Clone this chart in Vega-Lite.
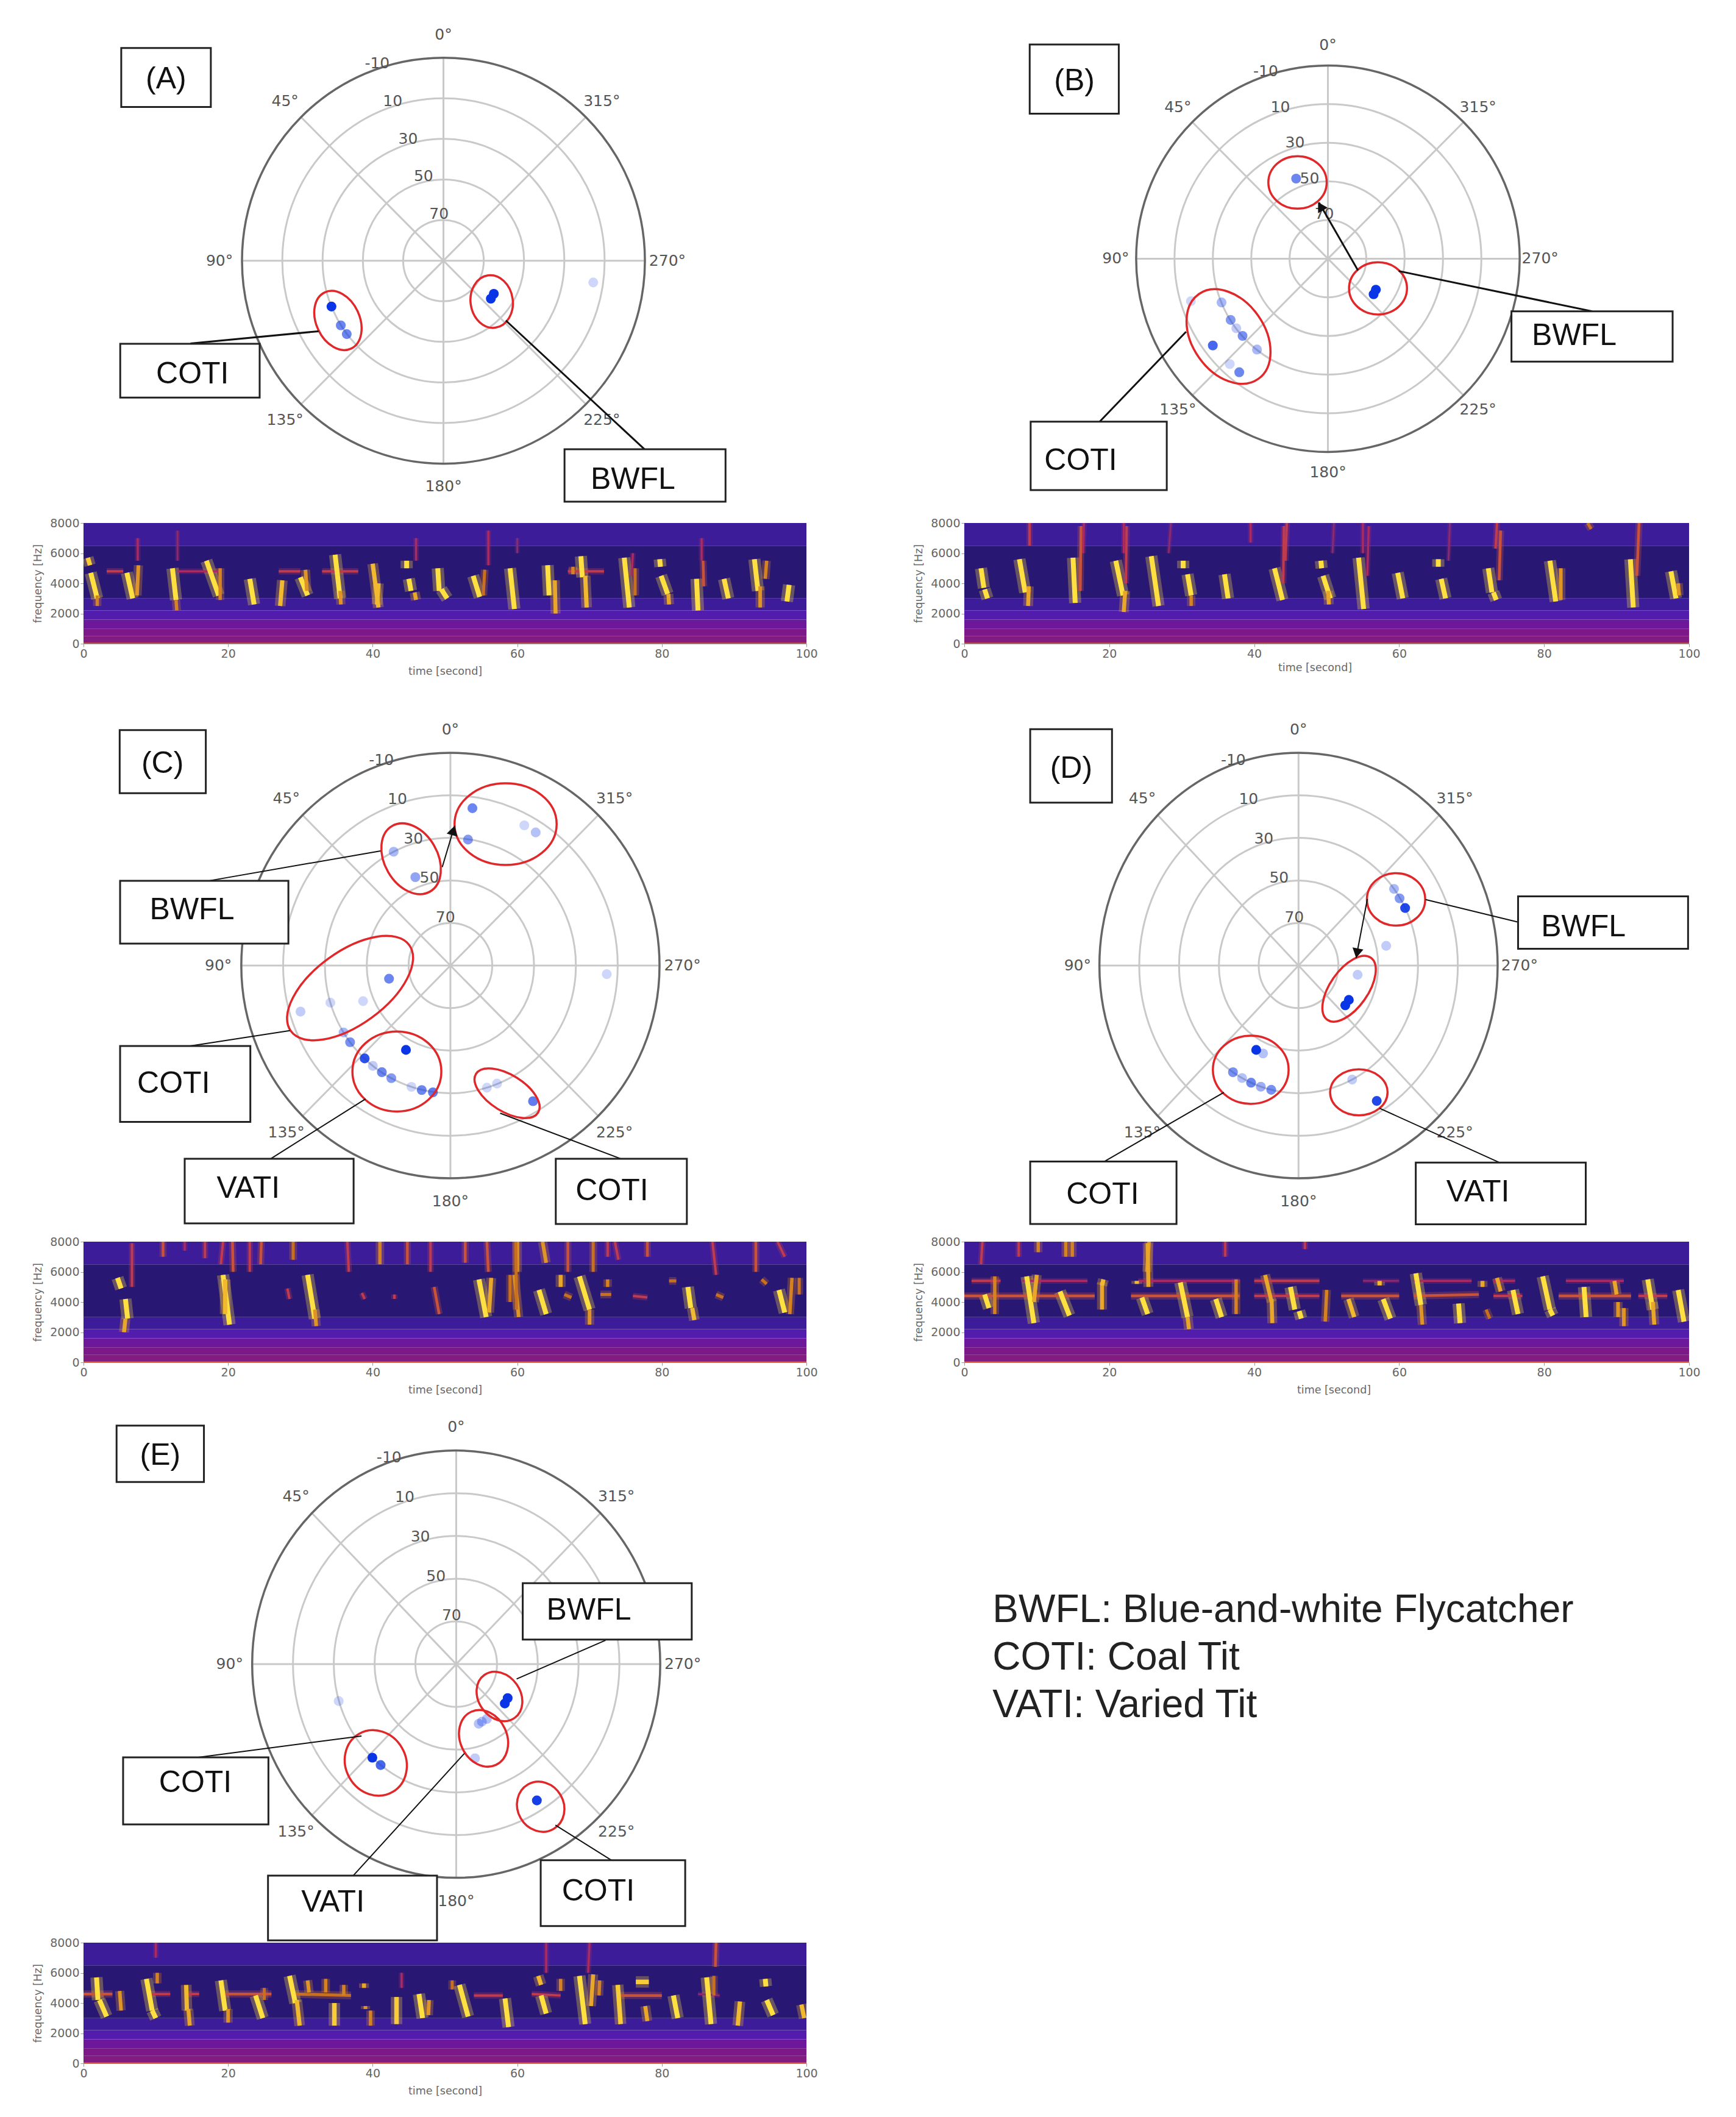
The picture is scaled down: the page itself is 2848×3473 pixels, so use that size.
{"$schema":"https://vega.github.io/schema/vega-lite/v6.json","padding":0,"background":"white","columns":2,"spacing":{"row":0,"column":259},"bounds":"flush","align":"each","resolve":{"scale":{"size":"independent"}},
"config":{"view":{"stroke":null},"legend":{"disable":true},"axis":{"grid":false,"labelFlush":false,"labelFont":"DejaVu Sans","labelFontSize":19,"labelColor":"#666666","titleFont":"DejaVu Sans","titleFontSize":17.5,"titleFontWeight":"normal","titleColor":"#666666","domainColor":"#999999","tickColor":"#999999","tickSize":5,"labelOverlap":false,"titlePadding":10}},
"datasets":{
"polar":[
{"p":"*","k":"spoke","theta":0,"db":-10},{"p":"*","k":"spoke","theta":45,"db":-10},{"p":"*","k":"spoke","theta":90,"db":-10},{"p":"*","k":"spoke","theta":135,"db":-10},{"p":"*","k":"spoke","theta":180,"db":-10},{"p":"*","k":"spoke","theta":225,"db":-10},{"p":"*","k":"spoke","theta":270,"db":-10},{"p":"*","k":"spoke","theta":315,"db":-10},
{"p":"*","k":"ang","theta":0,"db":-21,"t":"0°"},{"p":"*","k":"ang","theta":45,"db":-21,"t":"45°"},{"p":"*","k":"ang","theta":90,"db":-21,"t":"90°"},{"p":"*","k":"ang","theta":135,"db":-21,"t":"135°"},{"p":"*","k":"ang","theta":180,"db":-21,"t":"180°"},{"p":"*","k":"ang","theta":225,"db":-21,"t":"225°"},{"p":"*","k":"ang","theta":270,"db":-21,"t":"270°"},{"p":"*","k":"ang","theta":315,"db":-21,"t":"315°"},
{"p":"*","k":"ring","theta":22.5,"db":-10,"t":"-10"},{"p":"*","k":"ring","theta":22.5,"db":10,"t":"10"},{"p":"*","k":"ring","theta":22.5,"db":30,"t":"30"},{"p":"*","k":"ring","theta":22.5,"db":50,"t":"50"},{"p":"*","k":"ring","theta":22.5,"db":70,"t":"70"},
{"p":"A","k":"page","e":-219.5,"e2":640.9,"n":128.2,"n2":-912.9},
{"p":"A","k":"pt","theta":112.1,"db":30.1,"o":1},{"p":"A","k":"pt","theta":122,"db":30,"o":0.6},{"p":"A","k":"pt","theta":127,"db":30,"o":0.6},{"p":"A","k":"pt","theta":236.9,"db":60.2,"o":1},{"p":"A","k":"pt","theta":231.5,"db":60,"o":1},{"p":"A","k":"pt","theta":261.8,"db":15,"o":0.2},
{"p":"A","k":"ell","e":-52.3,"n":-29.4,"a":15.3,"sh":"r70","tilt":-25},{"p":"A","k":"ell","e":23.9,"n":-20.1,"a":13,"sh":"r80","tilt":-8},
{"p":"A","k":"ln","e":-125.4,"n":-40.7,"e2":-61.9,"n2":-34.7},{"p":"A","k":"ln","e":30.9,"n":-29.4,"e2":99.6,"n2":-92.7},
{"p":"A","k":"box","e":-159.7,"e2":-115.3,"n":104.6,"n2":75.6},{"p":"A","k":"box","e":-160.2,"e2":-91.1,"n":-40.9,"n2":-67.3},{"p":"A","k":"box","e":60,"e2":139.8,"n":-92.7,"n2":-118.5},
{"p":"A","k":"txt","e":-137.5,"n":89.1,"t":"(A)"},{"p":"A","k":"txt","e":-124.4,"n":-55.8,"t":"COTI"},{"p":"A","k":"txt","e":93.9,"n":-107.8,"t":"BWFL"},
{"p":"B","k":"pt","theta":21.8,"db":45.2,"o":0.6},{"p":"B","k":"pt","theta":237.3,"db":60.2,"o":1},{"p":"B","k":"pt","theta":232.3,"db":59.8,"o":1},{"p":"B","k":"pt","theta":107.1,"db":15,"o":0.2},{"p":"B","k":"pt","theta":112.2,"db":29.9,"o":0.35},{"p":"B","k":"pt","theta":122,"db":30,"o":0.5},{"p":"B","k":"pt","theta":127,"db":30,"o":0.25},{"p":"B","k":"pt","theta":131.9,"db":30,"o":0.55},{"p":"B","k":"pt","theta":126.8,"db":14.8,"o":0.75},{"p":"B","k":"pt","theta":141.8,"db":30,"o":0.35},{"p":"B","k":"pt","theta":136.8,"db":15,"o":0.2},{"p":"B","k":"pt","theta":141.8,"db":15,"o":0.6},
{"p":"B","k":"ell","e":-15.9,"n":39.6,"a":15.1,"sh":"r90","tilt":90},{"p":"B","k":"ell","e":26.2,"n":-15.4,"a":15,"sh":"r90","tilt":90},{"p":"B","k":"ell","e":-52,"n":-40.4,"a":26.8,"sh":"r70","tilt":-35},
{"p":"B","k":"ln","e":-119.4,"n":-84.6,"e2":-74.2,"n2":-37.9},{"p":"B","k":"ln","e":138.2,"n":-27.3,"e2":37,"n2":-6.4},{"p":"B","k":"ln","e":15.7,"n":-6,"e2":-4.7,"n2":29.2},
{"p":"B","k":"head","e":-3.9,"n":27.2,"tilt":-30},
{"p":"B","k":"box","e":-156,"e2":-109.4,"n":111.2,"n2":75.3},{"p":"B","k":"box","e":-155.5,"e2":-84.3,"n":-84.6,"n2":-120.1},{"p":"B","k":"box","e":96,"e2":180.3,"n":-27.3,"n2":-53.4},
{"p":"B","k":"txt","e":-132.6,"n":92.1,"t":"(B)"},{"p":"B","k":"txt","e":-129.3,"n":-105,"t":"COTI"},{"p":"B","k":"txt","e":128.8,"n":-40.1,"t":"BWFL"},
{"p":"C","k":"pt","theta":351.9,"db":15.3,"o":0.6},{"p":"C","k":"pt","theta":331.8,"db":15.2,"o":0.2},{"p":"C","k":"pt","theta":326.9,"db":15.3,"o":0.3},{"p":"C","k":"pt","theta":351.9,"db":30.2,"o":0.5},{"p":"C","k":"pt","theta":26.9,"db":30,"o":0.35},{"p":"C","k":"pt","theta":22,"db":45.2,"o":0.45},{"p":"C","k":"pt","theta":101.9,"db":60,"o":0.6},{"p":"C","k":"pt","theta":111.8,"db":45,"o":0.2},{"p":"C","k":"pt","theta":106.9,"db":30,"o":0.2},{"p":"C","k":"pt","theta":106.8,"db":15.1,"o":0.25},{"p":"C","k":"pt","theta":121.6,"db":30,"o":0.35},{"p":"C","k":"pt","theta":126.9,"db":30,"o":0.55},{"p":"C","k":"pt","theta":136.8,"db":30.1,"o":0.85},{"p":"C","k":"pt","theta":141.8,"db":30,"o":0.25},{"p":"C","k":"pt","theta":146.8,"db":30.1,"o":0.6},{"p":"C","k":"pt","theta":151.9,"db":30,"o":0.5},{"p":"C","k":"pt","theta":161.9,"db":30,"o":0.2},{"p":"C","k":"pt","theta":166.8,"db":29.9,"o":0.6},{"p":"C","k":"pt","theta":172,"db":29.8,"o":0.65},{"p":"C","k":"pt","theta":151.8,"db":45,"o":1},{"p":"C","k":"pt","theta":196.9,"db":30,"o":0.2},{"p":"C","k":"pt","theta":201.9,"db":30.2,"o":0.2},{"p":"C","k":"pt","theta":211.8,"db":15,"o":0.65},{"p":"C","k":"pt","theta":266.9,"db":15.1,"o":0.2},
{"p":"C","k":"ell","e":-18.8,"n":50.2,"a":17.8,"sh":"r70","tilt":-30},{"p":"C","k":"ell","e":26.4,"n":66.5,"a":24,"sh":"r80","tilt":90},{"p":"C","k":"ell","e":-48,"n":-10.6,"a":34.4,"sh":"r50","tilt":54},{"p":"C","k":"ell","e":-25.6,"n":-49.8,"a":20.9,"sh":"r90","tilt":90},{"p":"C","k":"ell","e":27.1,"n":-60,"a":17.2,"sh":"r50","tilt":-58},
{"p":"C","k":"ln","e":-115.8,"n":39.8,"e2":-33.4,"n2":53.9},{"p":"C","k":"ln","e":-124.6,"n":-37.8,"e2":-76.8,"n2":-30.6},{"p":"C","k":"ln","e":-85.9,"n":-90.8,"e2":-40.6,"n2":-62.7},{"p":"C","k":"ln","e":81.4,"n":-90.8,"e2":23.8,"n2":-69.4},{"p":"C","k":"ln","e":-3.9,"n":46.3,"e2":2,"n2":65.7},
{"p":"C","k":"head","e":1.4,"n":63.5,"tilt":16},
{"p":"C","k":"box","e":-158.2,"e2":-117,"n":110.7,"n2":81},{"p":"C","k":"box","e":-158,"e2":-77.5,"n":39.8,"n2":10.3},{"p":"C","k":"box","e":-158,"e2":-95.7,"n":-37.8,"n2":-73.5},{"p":"C","k":"box","e":-127.1,"e2":-46.3,"n":-90.8,"n2":-121.2},{"p":"C","k":"box","e":50.4,"e2":113.1,"n":-90.8,"n2":-121.5},
{"p":"C","k":"txt","e":-137.7,"n":94.9,"t":"(C)"},{"p":"C","k":"txt","e":-123.6,"n":26.2,"t":"BWFL"},{"p":"C","k":"txt","e":-132.4,"n":-55.5,"t":"COTI"},{"p":"C","k":"txt","e":-96.7,"n":-104.9,"t":"VATI"},{"p":"C","k":"txt","e":77.3,"n":-106,"t":"COTI"},
{"p":"D","k":"pt","theta":306.9,"db":30,"o":0.35},{"p":"D","k":"pt","theta":301.9,"db":30.2,"o":0.5},{"p":"D","k":"pt","theta":296.8,"db":30,"o":0.9},{"p":"D","k":"pt","theta":281.9,"db":45,"o":0.25},{"p":"D","k":"pt","theta":261.7,"db":60,"o":0.25},{"p":"D","k":"pt","theta":237.4,"db":60,"o":1},{"p":"D","k":"pt","theta":231.5,"db":60,"o":1},{"p":"D","k":"pt","theta":156.7,"db":45,"o":0.3},{"p":"D","k":"pt","theta":151.8,"db":45,"o":1},{"p":"D","k":"pt","theta":146.7,"db":30,"o":0.55},{"p":"D","k":"pt","theta":151.8,"db":30,"o":0.3},{"p":"D","k":"pt","theta":156.6,"db":30,"o":0.6},{"p":"D","k":"pt","theta":161.6,"db":30,"o":0.4},{"p":"D","k":"pt","theta":166.8,"db":30,"o":0.55},{"p":"D","k":"pt","theta":206.7,"db":30,"o":0.25},{"p":"D","k":"pt","theta":211.7,"db":15.2,"o":0.9},
{"p":"D","k":"ell","e":49,"n":31.1,"a":13.7,"sh":"r90","tilt":90},{"p":"D","k":"ell","e":25.4,"n":-10.9,"a":17.8,"sh":"r50","tilt":35},{"p":"D","k":"ell","e":-24,"n":-49,"a":17.8,"sh":"r90","tilt":90},{"p":"D","k":"ell","e":30.3,"n":-59.6,"a":13.5,"sh":"r80","tilt":90},
{"p":"D","k":"ln","e":110.3,"n":20.4,"e2":63.8,"n2":31},{"p":"D","k":"ln","e":-97.5,"n":-92.1,"e2":-37.5,"n2":-59.6},{"p":"D","k":"ln","e":100.9,"n":-92.6,"e2":40.7,"n2":-67.1},{"p":"D","k":"ln","e":34.6,"n":31.3,"e2":28.9,"n2":3.6},
{"p":"D","k":"head","e":29.4,"n":5.8,"tilt":191},
{"p":"D","k":"box","e":-134.8,"e2":-93.7,"n":111.1,"n2":76.6},{"p":"D","k":"box","e":110.3,"e2":195.7,"n":32.5,"n2":7.9},{"p":"D","k":"box","e":-134.8,"e2":-61.3,"n":-92.1,"n2":-121.5},{"p":"D","k":"box","e":58.9,"e2":144.3,"n":-92.6,"n2":-121.6},
{"p":"D","k":"txt","e":-114.2,"n":92.6,"t":"(D)"},{"p":"D","k":"txt","e":143.1,"n":18,"t":"BWFL"},{"p":"D","k":"txt","e":-98.4,"n":-107.6,"t":"COTI"},{"p":"D","k":"txt","e":90.1,"n":-106.5,"t":"VATI"},
{"p":"E","k":"pt","theta":237.8,"db":60.2,"o":1},{"p":"E","k":"pt","theta":232.3,"db":59.9,"o":1},{"p":"E","k":"pt","theta":210.4,"db":60.3,"o":0.3},{"p":"E","k":"pt","theta":205.1,"db":60.3,"o":0.3},{"p":"E","k":"pt","theta":201.6,"db":60,"o":0.3},{"p":"E","k":"pt","theta":191.8,"db":45,"o":0.25},{"p":"E","k":"pt","theta":106.7,"db":29.9,"o":0.2},{"p":"E","k":"pt","theta":136.8,"db":30,"o":1},{"p":"E","k":"pt","theta":141.9,"db":30,"o":0.75},{"p":"E","k":"pt","theta":211.8,"db":15,"o":0.95},
{"p":"E","k":"ell","e":21.2,"n":-15.1,"a":12.3,"sh":"r80","tilt":-35},{"p":"E","k":"ell","e":13.4,"n":-34.7,"a":13.7,"sh":"r80","tilt":-25},{"p":"E","k":"ell","e":-39.4,"n":-46.2,"a":15.7,"sh":"r90","tilt":-30},{"p":"E","k":"ell","e":41.4,"n":-66.7,"a":12,"sh":"r90","tilt":-30},
{"p":"E","k":"ln","e":73.2,"n":11.2,"e2":29.6,"n2":-6.9},{"p":"E","k":"ln","e":-126.4,"n":-43.6,"e2":-46.4,"n2":-33.6},{"p":"E","k":"ln","e":-50.4,"n":-98.9,"e2":4,"n2":-41.8},{"p":"E","k":"ln","e":76,"n":-91.7,"e2":48.6,"n2":-75.3},
{"p":"E","k":"box","e":-166.4,"e2":-123.6,"n":111.6,"n2":85.2},{"p":"E","k":"box","e":32.6,"e2":115.4,"n":37.9,"n2":11.5},{"p":"E","k":"box","e":-163.2,"e2":-92,"n":-43.6,"n2":-75},{"p":"E","k":"box","e":-92.2,"e2":-9.4,"n":-98.9,"n2":-129.2},{"p":"E","k":"box","e":41.4,"e2":112.2,"n":-91.7,"n2":-122.5},
{"p":"E","k":"txt","e":-145,"n":97.6,"t":"(E)"},{"p":"E","k":"txt","e":65,"n":25,"t":"BWFL"},{"p":"E","k":"txt","e":-127.8,"n":-55.7,"t":"COTI"},{"p":"E","k":"txt","e":-60.4,"n":-111.5,"t":"VATI"},{"p":"E","k":"txt","e":69.6,"n":-106.4,"t":"COTI"}
],
"bands":[{"t":0,"t2":100,"f":0,"f2":500,"v":0.44},{"t":0,"t2":100,"f":500,"f2":1000,"v":0.41},{"t":0,"t2":100,"f":1000,"f2":1600,"v":0.36},{"t":0,"t2":100,"f":1600,"f2":2200,"v":0.31},{"t":0,"t2":100,"f":2200,"f2":3000,"v":0.24},{"t":0,"t2":100,"f":3000,"f2":6500,"v":0.15},{"t":0,"t2":100,"f":6500,"f2":8000,"v":0.24},{"t":0,"t2":100,"f":0,"f2":70,"v":0.65}],
"calls":[
{"s":"A","t":3.2,"f":4800,"t2":5.5,"f2":4800,"v":0.6},{"s":"A","t":13,"f":4800,"t2":19,"f2":4800,"v":0.55},{"s":"A","t":27,"f":4800,"t2":30,"f2":4800,"v":0.6},{"s":"A","t":33,"f":4800,"t2":38,"f2":4800,"v":0.6},{"s":"A","t":67,"f":4800,"t2":72,"f2":4800,"v":0.6},
{"s":"A","t":7.5,"f":7000,"t2":7.5,"f2":5500,"v":0.55},{"s":"A","t":13,"f":7500,"t2":13,"f2":5500,"v":0.5},{"s":"A","t":46,"f":7000,"t2":46,"f2":5500,"v":0.55},{"s":"A","t":56,"f":7500,"t2":56,"f2":5200,"v":0.55},{"s":"A","t":60,"f":7000,"t2":60,"f2":6000,"v":0.5},{"s":"A","t":76,"f":6000,"t2":75.8,"f2":4500,"v":0.55},{"s":"A","t":85.5,"f":7000,"t2":85.5,"f2":5500,"v":0.55},
{"s":"A","t":0.6,"f":5700,"t2":0.9,"f2":5200,"v":0.95},{"s":"A","t":1,"f":4700,"t2":1.9,"f2":3000,"v":1},{"s":"A","t":1.9,"f":3200,"t2":1.9,"f2":2500,"v":0.75},{"s":"A","t":6,"f":4700,"t2":6.8,"f2":3000,"v":1},{"s":"A","t":7.6,"f":5200,"t2":7.4,"f2":3200,"v":0.8},{"s":"A","t":12.3,"f":5000,"t2":12.8,"f2":2900,"v":1},{"s":"A","t":12.8,"f":2900,"t2":12.9,"f2":2200,"v":0.75},{"s":"A","t":17,"f":5500,"t2":18.7,"f2":3200,"v":1},{"s":"A","t":18.9,"f":5000,"t2":18.9,"f2":2900,"v":0.75},{"s":"A","t":23,"f":4300,"t2":23.6,"f2":2600,"v":1},{"s":"A","t":27.5,"f":4200,"t2":27.2,"f2":2500,"v":0.9},{"s":"A","t":30,"f":4400,"t2":31,"f2":3200,"v":1},{"s":"A","t":30.7,"f":4900,"t2":30.9,"f2":3500,"v":0.8},{"s":"A","t":34.8,"f":5900,"t2":35.5,"f2":3000,"v":1},{"s":"A","t":35.5,"f":3500,"t2":35.6,"f2":2600,"v":0.8},{"s":"A","t":40,"f":5300,"t2":40.8,"f2":2400,"v":0.9},{"s":"A","t":40.8,"f":4000,"t2":40.6,"f2":2600,"v":0.9},{"s":"A","t":44.7,"f":5500,"t2":44.7,"f2":5000,"v":1},{"s":"A","t":45,"f":4300,"t2":45.3,"f2":3500,"v":1},{"s":"A","t":45.8,"f":3400,"t2":46,"f2":2900,"v":0.85},{"s":"A","t":49,"f":5000,"t2":49.2,"f2":3500,"v":1},{"s":"A","t":49.5,"f":3600,"t2":50.3,"f2":3000,"v":1},{"s":"A","t":53.9,"f":4500,"t2":54.8,"f2":3100,"v":1},{"s":"A","t":55.5,"f":4900,"t2":55.3,"f2":3200,"v":0.7},{"s":"A","t":59,"f":5000,"t2":59.6,"f2":2300,"v":1},{"s":"A","t":64.2,"f":5200,"t2":64.4,"f2":3200,"v":1},{"s":"A","t":65.2,"f":4200,"t2":65.3,"f2":2000,"v":0.85},{"s":"A","t":67.7,"f":5100,"t2":67.7,"f2":4600,"v":0.75},{"s":"A","t":68.8,"f":5800,"t2":69,"f2":4400,"v":1},{"s":"A","t":69.4,"f":4500,"t2":69.6,"f2":2400,"v":0.9},{"s":"A","t":74.8,"f":5700,"t2":75.5,"f2":2400,"v":1},{"s":"A","t":76.3,"f":5000,"t2":76.3,"f2":3200,"v":0.7},{"s":"A","t":79.7,"f":5600,"t2":79.8,"f2":5100,"v":1},{"s":"A","t":79.9,"f":4500,"t2":80.8,"f2":3300,"v":1},{"s":"A","t":80.9,"f":3300,"t2":81,"f2":2600,"v":0.85},{"s":"A","t":84.8,"f":4300,"t2":85,"f2":2200,"v":1},{"s":"A","t":85.7,"f":5500,"t2":85.8,"f2":3800,"v":0.65},{"s":"A","t":88.6,"f":4300,"t2":89.2,"f2":3000,"v":1},{"s":"A","t":92.8,"f":5600,"t2":93.3,"f2":3500,"v":1},{"s":"A","t":93.6,"f":3800,"t2":93.6,"f2":2400,"v":0.8},{"s":"A","t":94.5,"f":5500,"t2":94.3,"f2":4300,"v":0.75},{"s":"A","t":97.6,"f":3900,"t2":97.3,"f2":2800,"v":1},
{"s":"B","t":9,"f":8000,"t2":9,"f2":6500,"v":0.6},{"s":"B","t":16.5,"f":8000,"t2":16.4,"f2":6000,"v":0.55},{"s":"B","t":22,"f":8000,"t2":22,"f2":6000,"v":0.55},{"s":"B","t":28.5,"f":8000,"t2":28.2,"f2":6000,"v":0.5},{"s":"B","t":39.5,"f":8000,"t2":39.5,"f2":6700,"v":0.55},{"s":"B","t":44.5,"f":8000,"t2":44.3,"f2":5500,"v":0.6},{"s":"B","t":51,"f":8000,"t2":50.8,"f2":6000,"v":0.5},{"s":"B","t":55,"f":8000,"t2":55,"f2":6000,"v":0.55},{"s":"B","t":67,"f":8000,"t2":66.8,"f2":5500,"v":0.5},{"s":"B","t":73.5,"f":8000,"t2":73.3,"f2":6300,"v":0.6},{"s":"B","t":86,"f":8000,"t2":86.5,"f2":7600,"v":0.7},
{"s":"B","t":2.3,"f":5000,"t2":2.7,"f2":3700,"v":1},{"s":"B","t":2.8,"f":3600,"t2":3.2,"f2":3000,"v":1},{"s":"B","t":7.6,"f":5600,"t2":8.4,"f2":3400,"v":1},{"s":"B","t":8.9,"f":3800,"t2":8.8,"f2":2500,"v":0.85},{"s":"B","t":15,"f":5700,"t2":15.3,"f2":2700,"v":1},{"s":"B","t":16.1,"f":7800,"t2":16,"f2":3500,"v":0.65},{"s":"B","t":20.9,"f":5500,"t2":21.9,"f2":3200,"v":1},{"s":"B","t":22.2,"f":3500,"t2":22,"f2":2100,"v":0.85},{"s":"B","t":22.4,"f":7800,"t2":22.3,"f2":4000,"v":0.6},{"s":"B","t":25.8,"f":5800,"t2":26.8,"f2":2500,"v":1},{"s":"B","t":30.2,"f":5500,"t2":30.2,"f2":5000,"v":1},{"s":"B","t":30.8,"f":4600,"t2":31.3,"f2":3200,"v":1},{"s":"B","t":31.3,"f":3200,"t2":31.3,"f2":2500,"v":0.75},{"s":"B","t":35.9,"f":4600,"t2":36.4,"f2":3000,"v":1},{"s":"B","t":42.8,"f":5000,"t2":43.9,"f2":2900,"v":1},{"s":"B","t":44.1,"f":7800,"t2":44,"f2":4000,"v":0.6},{"s":"B","t":49.2,"f":5500,"t2":49.3,"f2":5000,"v":1},{"s":"B","t":49.5,"f":4500,"t2":50.5,"f2":3000,"v":1},{"s":"B","t":50.2,"f":3500,"t2":50.3,"f2":2600,"v":0.85},{"s":"B","t":54.4,"f":5700,"t2":55.1,"f2":2300,"v":1},{"s":"B","t":55.8,"f":7800,"t2":55.6,"f2":4500,"v":0.55},{"s":"B","t":59.8,"f":4700,"t2":60.5,"f2":3000,"v":1},{"s":"B","t":65.4,"f":5600,"t2":65.4,"f2":5100,"v":1},{"s":"B","t":65.8,"f":4300,"t2":66.4,"f2":3000,"v":1},{"s":"B","t":72.3,"f":5000,"t2":72.8,"f2":3400,"v":1},{"s":"B","t":73,"f":3400,"t2":73.4,"f2":2900,"v":1},{"s":"B","t":74,"f":7500,"t2":73.8,"f2":4200,"v":0.65},{"s":"B","t":80.8,"f":5500,"t2":81.6,"f2":2800,"v":1},{"s":"B","t":82.3,"f":5000,"t2":82.3,"f2":2900,"v":0.8},{"s":"B","t":91.9,"f":5600,"t2":92.3,"f2":2400,"v":1},{"s":"B","t":93.1,"f":8000,"t2":92.8,"f2":4500,"v":0.65},{"s":"B","t":97.5,"f":4800,"t2":98.2,"f2":3000,"v":1},{"s":"B","t":98.5,"f":4000,"t2":98.6,"f2":3200,"v":0.8},
{"s":"C","t":11,"f":8000,"t2":11,"f2":7000,"v":0.65},{"s":"C","t":14,"f":8000,"t2":14,"f2":7400,"v":0.55},{"s":"C","t":16.8,"f":8000,"t2":16.8,"f2":6900,"v":0.6},{"s":"C","t":19.3,"f":8000,"t2":19,"f2":6500,"v":0.6},{"s":"C","t":20.6,"f":8000,"t2":20.7,"f2":6000,"v":0.65},{"s":"C","t":23,"f":8000,"t2":23,"f2":6000,"v":0.6},{"s":"C","t":24.6,"f":8000,"t2":24.5,"f2":6500,"v":0.65},{"s":"C","t":36.5,"f":8000,"t2":36.7,"f2":6000,"v":0.6},{"s":"C","t":41,"f":8000,"t2":41,"f2":6500,"v":0.75},{"s":"C","t":44.8,"f":8000,"t2":44.8,"f2":6500,"v":0.65},{"s":"C","t":48,"f":8000,"t2":48,"f2":6000,"v":0.6},{"s":"C","t":52.8,"f":8000,"t2":52.8,"f2":6600,"v":0.65},{"s":"C","t":55.8,"f":8000,"t2":56,"f2":6000,"v":0.65},{"s":"C","t":60,"f":8000,"t2":60,"f2":6000,"v":0.8},{"s":"C","t":63.5,"f":8000,"t2":64,"f2":6600,"v":0.8},{"s":"C","t":67,"f":8000,"t2":67,"f2":6000,"v":0.65},{"s":"C","t":70.5,"f":8000,"t2":70.5,"f2":6000,"v":0.7},{"s":"C","t":72.5,"f":8000,"t2":72.5,"f2":7000,"v":0.6},{"s":"C","t":73.5,"f":8000,"t2":74,"f2":6800,"v":0.6},{"s":"C","t":78,"f":8000,"t2":78,"f2":7000,"v":0.65},{"s":"C","t":87,"f":8000,"t2":87.5,"f2":5800,"v":0.6},{"s":"C","t":93,"f":8000,"t2":93,"f2":6000,"v":0.65},{"s":"C","t":96,"f":8000,"t2":97,"f2":7000,"v":0.6},
{"s":"C","t":4.7,"f":5600,"t2":5.2,"f2":4900,"v":1},{"s":"C","t":5.8,"f":4200,"t2":6.1,"f2":2900,"v":1},{"s":"C","t":5.8,"f":2900,"t2":5.6,"f2":2000,"v":0.85},{"s":"C","t":6.7,"f":7900,"t2":6.7,"f2":5000,"v":0.6},{"s":"C","t":19.3,"f":5800,"t2":20.2,"f2":2500,"v":1},{"s":"C","t":19.6,"f":5500,"t2":19.6,"f2":3200,"v":0.9},{"s":"C","t":31,"f":5800,"t2":32,"f2":2900,"v":1},{"s":"C","t":32,"f":3500,"t2":32.2,"f2":2400,"v":0.8},{"s":"C","t":29,"f":8000,"t2":29,"f2":6800,"v":0.7},{"s":"C","t":28.2,"f":4900,"t2":28.5,"f2":4200,"v":0.6},{"s":"C","t":38.5,"f":4600,"t2":38.9,"f2":4200,"v":0.6},{"s":"C","t":43,"f":4500,"t2":43,"f2":4200,"v":0.6},{"s":"C","t":48.5,"f":5000,"t2":49.2,"f2":3200,"v":0.65},{"s":"C","t":54.7,"f":5500,"t2":55.7,"f2":3000,"v":1},{"s":"C","t":56.4,"f":5600,"t2":56.1,"f2":3300,"v":0.85},{"s":"C","t":59.6,"f":5800,"t2":60.2,"f2":3000,"v":0.8},{"s":"C","t":59.8,"f":8000,"t2":59.9,"f2":3500,"v":0.7},{"s":"C","t":59,"f":5800,"t2":59,"f2":4000,"v":0.7},{"s":"C","t":63,"f":4800,"t2":64,"f2":3200,"v":1},{"s":"C","t":66,"f":5800,"t2":66,"f2":5000,"v":0.85},{"s":"C","t":66.5,"f":4500,"t2":67.5,"f2":4300,"v":0.7},{"s":"C","t":68.6,"f":5700,"t2":70,"f2":3500,"v":1},{"s":"C","t":70,"f":3500,"t2":70,"f2":2500,"v":0.8},{"s":"C","t":72.5,"f":5500,"t2":72.5,"f2":5000,"v":0.75},{"s":"C","t":71.5,"f":4500,"t2":73,"f2":4500,"v":0.7},{"s":"C","t":76,"f":4400,"t2":78,"f2":4300,"v":0.6},{"s":"C","t":81,"f":5400,"t2":82,"f2":5400,"v":0.7},{"s":"C","t":83.6,"f":5000,"t2":84,"f2":3600,"v":1},{"s":"C","t":84.2,"f":3600,"t2":84.5,"f2":2800,"v":0.9},{"s":"C","t":87.5,"f":4500,"t2":88.5,"f2":4300,"v":0.7},{"s":"C","t":93.8,"f":5500,"t2":94.5,"f2":5200,"v":0.7},{"s":"C","t":96.2,"f":4800,"t2":97,"f2":3300,"v":1},{"s":"C","t":98,"f":5600,"t2":97.7,"f2":3200,"v":0.75},{"s":"C","t":99,"f":5600,"t2":99,"f2":4500,"v":0.7},
{"s":"D","t":0,"f":4400,"t2":18,"f2":4400,"v":0.65},{"s":"D","t":23,"f":4400,"t2":38,"f2":4400,"v":0.65},{"s":"D","t":40,"f":4400,"t2":49,"f2":4400,"v":0.6},{"s":"D","t":52,"f":4400,"t2":60,"f2":4400,"v":0.65},{"s":"D","t":62,"f":4400,"t2":71,"f2":4500,"v":0.65},{"s":"D","t":73,"f":4400,"t2":77,"f2":4400,"v":0.6},{"s":"D","t":82,"f":4400,"t2":92,"f2":4400,"v":0.65},{"s":"D","t":93,"f":4400,"t2":97,"f2":4400,"v":0.6},{"s":"D","t":1,"f":5400,"t2":5,"f2":5400,"v":0.6},{"s":"D","t":8,"f":5400,"t2":17,"f2":5400,"v":0.55},{"s":"D","t":24,"f":5400,"t2":38,"f2":5400,"v":0.55},{"s":"D","t":40,"f":5400,"t2":49,"f2":5400,"v":0.6},{"s":"D","t":55,"f":5400,"t2":60,"f2":5400,"v":0.5},{"s":"D","t":62,"f":5400,"t2":70,"f2":5400,"v":0.55},{"s":"D","t":73,"f":5400,"t2":76,"f2":5400,"v":0.55},{"s":"D","t":83,"f":5400,"t2":91,"f2":5400,"v":0.55},
{"s":"D","t":2.5,"f":8000,"t2":2.3,"f2":6500,"v":0.6},{"s":"D","t":7.5,"f":8000,"t2":7.5,"f2":7000,"v":0.6},{"s":"D","t":10.2,"f":8000,"t2":10.2,"f2":7300,"v":0.75},{"s":"D","t":14,"f":8000,"t2":14,"f2":7000,"v":0.75},{"s":"D","t":14.9,"f":8000,"t2":14.9,"f2":7000,"v":0.75},{"s":"D","t":25.5,"f":8000,"t2":25.2,"f2":6000,"v":0.8},{"s":"D","t":36,"f":8000,"t2":36,"f2":7000,"v":0.6},{"s":"D","t":47,"f":8000,"t2":47,"f2":7500,"v":0.6},
{"s":"D","t":2.8,"f":4500,"t2":3.4,"f2":3600,"v":1},{"s":"D","t":4.2,"f":5700,"t2":4.2,"f2":3200,"v":0.75},{"s":"D","t":8.6,"f":5700,"t2":9.6,"f2":2600,"v":1},{"s":"D","t":10,"f":5800,"t2":9.6,"f2":4000,"v":0.85},{"s":"D","t":13.2,"f":4700,"t2":14.5,"f2":3100,"v":1},{"s":"D","t":19,"f":5300,"t2":19,"f2":3500,"v":0.85},{"s":"D","t":19.2,"f":5500,"t2":19,"f2":5100,"v":0.9},{"s":"D","t":23.8,"f":5400,"t2":23.8,"f2":5200,"v":0.9},{"s":"D","t":24.5,"f":4300,"t2":25.3,"f2":3200,"v":1},{"s":"D","t":25.3,"f":7900,"t2":25.4,"f2":5000,"v":0.85},{"s":"D","t":29.8,"f":5300,"t2":30.8,"f2":3000,"v":1},{"s":"D","t":30.8,"f":3000,"t2":31,"f2":2200,"v":0.85},{"s":"D","t":34.7,"f":4200,"t2":35.5,"f2":3000,"v":1},{"s":"D","t":37.5,"f":5500,"t2":37.5,"f2":3200,"v":0.75},{"s":"D","t":41.5,"f":5800,"t2":42.4,"f2":4000,"v":0.85},{"s":"D","t":42.4,"f":4200,"t2":42.5,"f2":2600,"v":0.85},{"s":"D","t":45,"f":5000,"t2":45.6,"f2":3500,"v":1},{"s":"D","t":46.2,"f":3400,"t2":46.5,"f2":2900,"v":1},{"s":"D","t":50,"f":4800,"t2":49.8,"f2":2700,"v":0.75},{"s":"D","t":53,"f":4200,"t2":53.8,"f2":3000,"v":0.9},{"s":"D","t":57.3,"f":5400,"t2":57.3,"f2":5100,"v":0.9},{"s":"D","t":57.8,"f":4200,"t2":58.8,"f2":2900,"v":1},{"s":"D","t":62.3,"f":5900,"t2":63,"f2":3800,"v":1},{"s":"D","t":63,"f":3800,"t2":63.2,"f2":2500,"v":0.8},{"s":"D","t":68.2,"f":3900,"t2":68.4,"f2":2600,"v":1},{"s":"D","t":71.5,"f":5400,"t2":71.5,"f2":5000,"v":0.85},{"s":"D","t":72,"f":3500,"t2":72.5,"f2":2900,"v":0.7},{"s":"D","t":73.5,"f":5600,"t2":74,"f2":4700,"v":0.85},{"s":"D","t":75.7,"f":4800,"t2":76.4,"f2":3200,"v":1},{"s":"D","t":79.8,"f":5700,"t2":80.8,"f2":3500,"v":1},{"s":"D","t":80.8,"f":3500,"t2":81.2,"f2":3100,"v":1},{"s":"D","t":85.5,"f":5000,"t2":85.8,"f2":3000,"v":1},{"s":"D","t":89.7,"f":5400,"t2":90,"f2":4500,"v":0.85},{"s":"D","t":90.2,"f":4000,"t2":90.2,"f2":3000,"v":0.8},{"s":"D","t":91,"f":3600,"t2":91,"f2":2400,"v":0.8},{"s":"D","t":94.3,"f":5500,"t2":95,"f2":3500,"v":1},{"s":"D","t":95,"f":4000,"t2":95.2,"f2":2500,"v":0.85},{"s":"D","t":98.5,"f":4800,"t2":99.3,"f2":2700,"v":1},
{"s":"E","t":0,"f":4600,"t2":4,"f2":4600,"v":0.65},{"s":"E","t":9,"f":4600,"t2":12,"f2":4600,"v":0.6},{"s":"E","t":14,"f":4600,"t2":16,"f2":4600,"v":0.6},{"s":"E","t":19,"f":4600,"t2":26,"f2":4600,"v":0.65},{"s":"E","t":29,"f":4600,"t2":37,"f2":4500,"v":0.7},{"s":"E","t":54,"f":4500,"t2":58,"f2":4500,"v":0.6},{"s":"E","t":62,"f":4600,"t2":66,"f2":4500,"v":0.6},{"s":"E","t":74,"f":4500,"t2":80,"f2":4500,"v":0.65},{"s":"E","t":85,"f":4600,"t2":88,"f2":4500,"v":0.5},
{"s":"E","t":10,"f":8000,"t2":10,"f2":7000,"v":0.55},{"s":"E","t":70,"f":8000,"t2":69.8,"f2":6000,"v":0.55},{"s":"E","t":87.5,"f":8000,"t2":87.4,"f2":6400,"v":0.65},{"s":"E","t":64,"f":8000,"t2":64,"f2":6000,"v":0.55},
{"s":"E","t":1.8,"f":5700,"t2":2,"f2":4200,"v":1},{"s":"E","t":2.2,"f":4200,"t2":3.2,"f2":3100,"v":1},{"s":"E","t":5,"f":4800,"t2":5.2,"f2":3500,"v":0.8},{"s":"E","t":8.7,"f":5600,"t2":9.5,"f2":3500,"v":1},{"s":"E","t":9.5,"f":3500,"t2":10,"f2":3000,"v":1},{"s":"E","t":10.2,"f":6000,"t2":10.2,"f2":5300,"v":0.75},{"s":"E","t":14.2,"f":5200,"t2":14.3,"f2":3500,"v":0.9},{"s":"E","t":14.5,"f":3600,"t2":14.7,"f2":2500,"v":0.85},{"s":"E","t":19,"f":5500,"t2":19.6,"f2":3500,"v":1},{"s":"E","t":20,"f":3600,"t2":20,"f2":2700,"v":0.8},{"s":"E","t":23.8,"f":4500,"t2":24.8,"f2":3000,"v":1},{"s":"E","t":25,"f":5000,"t2":25,"f2":4200,"v":0.7},{"s":"E","t":28.5,"f":5800,"t2":29.3,"f2":4000,"v":1},{"s":"E","t":29.5,"f":4200,"t2":29.9,"f2":2500,"v":0.9},{"s":"E","t":31,"f":5500,"t2":31.2,"f2":4700,"v":0.8},{"s":"E","t":33.5,"f":5600,"t2":33.5,"f2":4700,"v":0.75},{"s":"E","t":34.7,"f":4000,"t2":34.7,"f2":2500,"v":0.95},{"s":"E","t":36,"f":5200,"t2":36,"f2":4500,"v":0.75},{"s":"E","t":38.8,"f":5300,"t2":38.8,"f2":5000,"v":0.85},{"s":"E","t":39,"f":3800,"t2":39,"f2":3600,"v":0.8},{"s":"E","t":39.7,"f":3500,"t2":39.7,"f2":2500,"v":0.75},{"s":"E","t":43.3,"f":4400,"t2":43.3,"f2":2600,"v":0.95},{"s":"E","t":44,"f":6000,"t2":44,"f2":5000,"v":0.55},{"s":"E","t":46.4,"f":4600,"t2":46.9,"f2":3000,"v":1},{"s":"E","t":47.8,"f":4200,"t2":47.7,"f2":3200,"v":0.8},{"s":"E","t":51,"f":5500,"t2":51,"f2":4900,"v":0.7},{"s":"E","t":52,"f":5200,"t2":53.2,"f2":3100,"v":1},{"s":"E","t":58.3,"f":4300,"t2":58.8,"f2":2400,"v":1},{"s":"E","t":62.9,"f":5800,"t2":63.3,"f2":5200,"v":0.9},{"s":"E","t":63.3,"f":4500,"t2":64,"f2":3300,"v":1},{"s":"E","t":66,"f":5600,"t2":66,"f2":4800,"v":0.75},{"s":"E","t":68.6,"f":5800,"t2":69.4,"f2":2600,"v":1},{"s":"E","t":70.5,"f":5900,"t2":70.2,"f2":3800,"v":0.85},{"s":"E","t":71.4,"f":5500,"t2":71.3,"f2":4500,"v":0.75},{"s":"E","t":73.9,"f":5200,"t2":74.3,"f2":2600,"v":0.95},{"s":"E","t":76.4,"f":5400,"t2":78.2,"f2":5400,"v":0.95},{"s":"E","t":77.7,"f":3800,"t2":78,"f2":2800,"v":0.85},{"s":"E","t":81.6,"f":4500,"t2":82.2,"f2":3000,"v":1},{"s":"E","t":86.2,"f":5700,"t2":86.8,"f2":2600,"v":1},{"s":"E","t":87.2,"f":5800,"t2":87.2,"f2":4500,"v":0.7},{"s":"E","t":90.8,"f":4100,"t2":90.5,"f2":2500,"v":0.9},{"s":"E","t":94.3,"f":5600,"t2":94.4,"f2":5100,"v":1},{"s":"E","t":94.5,"f":4200,"t2":95.4,"f2":3200,"v":1},{"s":"E","t":99.3,"f":3900,"t2":99.7,"f2":3000,"v":0.9}
],
"key":[{"e":3.9,"n":57.3,"t":"BWFL: Blue-and-white Flycatcher"},{"e":3.9,"n":49.1,"t":"COTI: Coal Tit"},{"e":3.9,"n":40.9,"t":"VATI: Varied Tit"}]
},
"concat":[
{"width":1186,"height":858,"data":{"name":"polar"},"transform":[{"filter":"datum.p==='A'||datum.p==='*'"},{"calculate":"datum.db==null?datum.e:-sin(datum.theta*PI/180)*(90-datum.db)","as":"e"},{"calculate":"datum.db==null?datum.n:cos(datum.theta*PI/180)*(90-datum.db)","as":"n"},{"calculate":"datum.db==null?datum.a:90-datum.db","as":"a"}],
"encoding":{"x":{"field":"e","type":"quantitative","axis":null,"scale":{"domain":[-178.4,179.9],"nice":false,"zero":false}},"y":{"field":"n","type":"quantitative","axis":null,"scale":{"domain":[-129,128.2],"nice":false,"zero":false}}},
"layer":[
{"transform":[{"filter":"datum.k==='page'"}],"mark":{"type":"rect","fill":"white"},"encoding":{"x2":{"field":"e2"},"y2":{"field":"n2"}}},
{"transform":[{"filter":"datum.k==='ring'&&datum.db>-10"}],"mark":{"type":"point","shape":"M0,-1A0.9925,1 0 1,1 0,1A0.9925,1 0 1,1 0,-1Z","filled":false,"stroke":"#c9c9c9","strokeWidth":3,"opacity":1},"encoding":{"x":{"datum":0,"type":"quantitative"},"y":{"datum":0,"type":"quantitative"},"size":{"field":"a","type":"quantitative","scale":{"type":"pow","exponent":2,"domain":[0,100],"range":[0,443556]}}}},
{"transform":[{"filter":"datum.k==='spoke'"}],"mark":{"type":"rule","stroke":"#c9c9c9","strokeWidth":3},"encoding":{"x2":{"datum":0},"y2":{"datum":0}}},
{"transform":[{"filter":"datum.k==='ring'&&datum.db===-10"}],"mark":{"type":"point","shape":"M0,-1A0.9925,1 0 1,1 0,1A0.9925,1 0 1,1 0,-1Z","filled":false,"stroke":"#666666","strokeWidth":3.5,"opacity":1},"encoding":{"x":{"datum":0,"type":"quantitative"},"y":{"datum":0,"type":"quantitative"},"size":{"field":"a","type":"quantitative","scale":{"type":"pow","exponent":2,"domain":[0,100],"range":[0,443556]}}}},
{"transform":[{"filter":"datum.k==='ang'"}],"mark":{"type":"text","font":"DejaVu Sans","fontSize":25,"fill":"#555555"},"encoding":{"text":{"field":"t"}}},
{"transform":[{"filter":"datum.k==='ring'"}],"mark":{"type":"text","font":"DejaVu Sans","fontSize":25,"fill":"#555555","dx":18,"dy":-15},"encoding":{"text":{"field":"t"}}},
{"transform":[{"filter":"datum.k==='pt'"}],"mark":{"type":"point","filled":true,"fill":"#0a35e6","size":260,"stroke":null},"encoding":{"opacity":{"field":"o","type":"quantitative","scale":{"domain":[0,1],"range":[0,1]}}}},
{"transform":[{"filter":"datum.k==='ell'"}],"mark":{"type":"point","filled":false,"stroke":"#e0282a","strokeWidth":3.5,"opacity":1},"encoding":{"shape":{"field":"sh","type":"nominal","scale":{"domain":["r50","r70","r80","r90"],"range":["M0,-1A0.5,1 0 1,1 0,1A0.5,1 0 1,1 0,-1Z","M0,-1A0.7,1 0 1,1 0,1A0.7,1 0 1,1 0,-1Z","M0,-1A0.8,1 0 1,1 0,1A0.8,1 0 1,1 0,-1Z","M0,-1A0.9,1 0 1,1 0,1A0.9,1 0 1,1 0,-1Z"]}},"size":{"field":"a","type":"quantitative","scale":{"type":"pow","exponent":2,"domain":[0,100],"range":[0,443556]}},"angle":{"field":"tilt","type":"quantitative","scale":null}}},
{"transform":[{"filter":"datum.k==='ln'"}],"mark":{"type":"rule","stroke":"#111111","strokeWidth":3},"encoding":{"x2":{"field":"e2"},"y2":{"field":"n2"}}},
{"transform":[{"filter":"datum.k==='box'"}],"mark":{"type":"rect","fill":"white","stroke":"#222222","strokeWidth":3},"encoding":{"x2":{"field":"e2"},"y2":{"field":"n2"}}},
{"transform":[{"filter":"datum.k==='txt'"}],"mark":{"type":"text","font":"Liberation Sans","fontSize":50,"fill":"#111111"},"encoding":{"text":{"field":"t"}}}
]},
{"width":1189,"height":858,"data":{"name":"polar"},"transform":[{"filter":"datum.p==='B'||datum.p==='*'"},{"calculate":"datum.db==null?datum.e:-sin(datum.theta*PI/180)*(90-datum.db)","as":"e"},{"calculate":"datum.db==null?datum.n:cos(datum.theta*PI/180)*(90-datum.db)","as":"n"},{"calculate":"datum.db==null?datum.a:90-datum.db","as":"a"}],
"encoding":{"x":{"field":"e","type":"quantitative","axis":null,"scale":{"domain":[-190.2,188.9],"nice":false,"zero":false}},"y":{"field":"n","type":"quantitative","axis":null,"scale":{"domain":[-137.2,134.3],"nice":false,"zero":false}}},
"layer":[
{"transform":[{"filter":"datum.k==='ring'&&datum.db>-10"}],"mark":{"type":"point","shape":"M0,-1A0.9925,1 0 1,1 0,1A0.9925,1 0 1,1 0,-1Z","filled":false,"stroke":"#c9c9c9","strokeWidth":3,"opacity":1},"encoding":{"x":{"datum":0,"type":"quantitative"},"y":{"datum":0,"type":"quantitative"},"size":{"field":"a","type":"quantitative","scale":{"type":"pow","exponent":2,"domain":[0,100],"range":[0,401956]}}}},
{"transform":[{"filter":"datum.k==='spoke'"}],"mark":{"type":"rule","stroke":"#c9c9c9","strokeWidth":3},"encoding":{"x2":{"datum":0},"y2":{"datum":0}}},
{"transform":[{"filter":"datum.k==='ring'&&datum.db===-10"}],"mark":{"type":"point","shape":"M0,-1A0.9925,1 0 1,1 0,1A0.9925,1 0 1,1 0,-1Z","filled":false,"stroke":"#666666","strokeWidth":3.5,"opacity":1},"encoding":{"x":{"datum":0,"type":"quantitative"},"y":{"datum":0,"type":"quantitative"},"size":{"field":"a","type":"quantitative","scale":{"type":"pow","exponent":2,"domain":[0,100],"range":[0,401956]}}}},
{"transform":[{"filter":"datum.k==='ang'"}],"mark":{"type":"text","font":"DejaVu Sans","fontSize":25,"fill":"#555555"},"encoding":{"text":{"field":"t"}}},
{"transform":[{"filter":"datum.k==='ring'"}],"mark":{"type":"text","font":"DejaVu Sans","fontSize":25,"fill":"#555555","dx":18,"dy":-15},"encoding":{"text":{"field":"t"}}},
{"transform":[{"filter":"datum.k==='pt'"}],"mark":{"type":"point","filled":true,"fill":"#0a35e6","size":260,"stroke":null},"encoding":{"opacity":{"field":"o","type":"quantitative","scale":{"domain":[0,1],"range":[0,1]}}}},
{"transform":[{"filter":"datum.k==='ell'"}],"mark":{"type":"point","filled":false,"stroke":"#e0282a","strokeWidth":3.5,"opacity":1},"encoding":{"shape":{"field":"sh","type":"nominal","scale":{"domain":["r50","r70","r80","r90"],"range":["M0,-1A0.5,1 0 1,1 0,1A0.5,1 0 1,1 0,-1Z","M0,-1A0.7,1 0 1,1 0,1A0.7,1 0 1,1 0,-1Z","M0,-1A0.8,1 0 1,1 0,1A0.8,1 0 1,1 0,-1Z","M0,-1A0.9,1 0 1,1 0,1A0.9,1 0 1,1 0,-1Z"]}},"size":{"field":"a","type":"quantitative","scale":{"type":"pow","exponent":2,"domain":[0,100],"range":[0,401956]}},"angle":{"field":"tilt","type":"quantitative","scale":null}}},
{"transform":[{"filter":"datum.k==='ln'"}],"mark":{"type":"rule","stroke":"#111111","strokeWidth":3},"encoding":{"x2":{"field":"e2"},"y2":{"field":"n2"}}},
{"transform":[{"filter":"datum.k==='head'"}],"mark":{"type":"point","shape":"triangle-up","filled":true,"fill":"#111111","size":330,"stroke":null,"opacity":1},"encoding":{"angle":{"field":"tilt","type":"quantitative","scale":null}}},
{"transform":[{"filter":"datum.k==='box'"}],"mark":{"type":"rect","fill":"white","stroke":"#222222","strokeWidth":3},"encoding":{"x2":{"field":"e2"},"y2":{"field":"n2"}}},
{"transform":[{"filter":"datum.k==='txt'"}],"mark":{"type":"text","font":"Liberation Sans","fontSize":50,"fill":"#111111"},"encoding":{"text":{"field":"t"}}}
]},
{"width":1186,"height":198,"encoding":{"x":{"field":"t","type":"quantitative","title":"time [second]","scale":{"domain":[0,100],"nice":false},"axis":{"values":[0,20,40,60,80,100]}},"y":{"field":"f","type":"quantitative","title":"frequency [Hz]","scale":{"domain":[0,8000],"nice":false},"axis":{"values":[0,2000,4000,6000,8000],"format":"d"}},"x2":{"field":"t2"},"y2":{"field":"f2"},"color":{"field":"v","type":"quantitative","scale":{"domain":[0,0.3,0.5,0.7,1],"range":["#120a3c","#4a1fb0","#8a2a70","#c87020","#ffe040"]},"legend":null}},"layer":[{"data":{"name":"bands"},"mark":"rect"},{"data":{"name":"calls"},"transform":[{"filter":"datum.s==='A'"}],"mark":{"type":"rule","clip":true,"opacity":0.3},"encoding":{"strokeWidth":{"field":"v","type":"quantitative","scale":{"domain":[0.5,1],"range":[8,20]},"legend":null}}},{"data":{"name":"calls"},"transform":[{"filter":"datum.s==='A'"}],"mark":{"type":"rule","clip":true},"encoding":{"size":{"field":"v","type":"quantitative","scale":{"domain":[0.5,1],"range":[3,8]},"legend":null}}}]},
{"width":1189,"height":198,"encoding":{"x":{"field":"t","type":"quantitative","title":"time [second]","scale":{"domain":[0,100],"nice":false},"axis":{"values":[0,20,40,60,80,100],"titleX":575,"titlePadding":4}},"y":{"field":"f","type":"quantitative","title":"frequency [Hz]","scale":{"domain":[0,8000],"nice":false},"axis":{"values":[0,2000,4000,6000,8000],"format":"d"}},"x2":{"field":"t2"},"y2":{"field":"f2"},"color":{"field":"v","type":"quantitative","scale":{"domain":[0,0.3,0.5,0.7,1],"range":["#120a3c","#4a1fb0","#8a2a70","#c87020","#ffe040"]},"legend":null}},"layer":[{"data":{"name":"bands"},"mark":"rect"},{"data":{"name":"calls"},"transform":[{"filter":"datum.s==='B'"}],"mark":{"type":"rule","clip":true,"opacity":0.3},"encoding":{"strokeWidth":{"field":"v","type":"quantitative","scale":{"domain":[0.5,1],"range":[8,20]},"legend":null}}},{"data":{"name":"calls"},"transform":[{"filter":"datum.s==='B'"}],"mark":{"type":"rule","clip":true},"encoding":{"size":{"field":"v","type":"quantitative","scale":{"domain":[0.5,1],"range":[3,8]},"legend":null}}}]},
{"width":1186,"height":981,"data":{"name":"polar"},"transform":[{"filter":"datum.p==='C'||datum.p==='*'"},{"calculate":"datum.db==null?datum.e:-sin(datum.theta*PI/180)*(90-datum.db)","as":"e"},{"calculate":"datum.db==null?datum.n:cos(datum.theta*PI/180)*(90-datum.db)","as":"n"},{"calculate":"datum.db==null?datum.a:90-datum.db","as":"a"}],
"encoding":{"x":{"field":"e","type":"quantitative","axis":null,"scale":{"domain":[-175.5,170.3],"nice":false,"zero":false}},"y":{"field":"n","type":"quantitative","axis":null,"scale":{"domain":[-129.8,151.3],"nice":false,"zero":false}}},
"layer":[
{"transform":[{"filter":"datum.k==='ring'&&datum.db>-10"}],"mark":{"type":"point","shape":"M0,-1A0.983,1 0 1,1 0,1A0.983,1 0 1,1 0,-1Z","filled":false,"stroke":"#c9c9c9","strokeWidth":3,"opacity":1},"encoding":{"x":{"datum":0,"type":"quantitative"},"y":{"datum":0,"type":"quantitative"},"size":{"field":"a","type":"quantitative","scale":{"type":"pow","exponent":2,"domain":[0,100],"range":[0,487204]}}}},
{"transform":[{"filter":"datum.k==='spoke'"}],"mark":{"type":"rule","stroke":"#c9c9c9","strokeWidth":3},"encoding":{"x2":{"datum":0},"y2":{"datum":0}}},
{"transform":[{"filter":"datum.k==='ring'&&datum.db===-10"}],"mark":{"type":"point","shape":"M0,-1A0.983,1 0 1,1 0,1A0.983,1 0 1,1 0,-1Z","filled":false,"stroke":"#666666","strokeWidth":3.5,"opacity":1},"encoding":{"x":{"datum":0,"type":"quantitative"},"y":{"datum":0,"type":"quantitative"},"size":{"field":"a","type":"quantitative","scale":{"type":"pow","exponent":2,"domain":[0,100],"range":[0,487204]}}}},
{"transform":[{"filter":"datum.k==='ang'"}],"mark":{"type":"text","font":"DejaVu Sans","fontSize":25,"fill":"#555555"},"encoding":{"text":{"field":"t"}}},
{"transform":[{"filter":"datum.k==='ring'"}],"mark":{"type":"text","font":"DejaVu Sans","fontSize":25,"fill":"#555555","dx":18,"dy":-15},"encoding":{"text":{"field":"t"}}},
{"transform":[{"filter":"datum.k==='pt'"}],"mark":{"type":"point","filled":true,"fill":"#0a35e6","size":260,"stroke":null},"encoding":{"opacity":{"field":"o","type":"quantitative","scale":{"domain":[0,1],"range":[0,1]}}}},
{"transform":[{"filter":"datum.k==='ell'"}],"mark":{"type":"point","filled":false,"stroke":"#e0282a","strokeWidth":3.5,"opacity":1},"encoding":{"shape":{"field":"sh","type":"nominal","scale":{"domain":["r50","r70","r80","r90"],"range":["M0,-1A0.5,1 0 1,1 0,1A0.5,1 0 1,1 0,-1Z","M0,-1A0.7,1 0 1,1 0,1A0.7,1 0 1,1 0,-1Z","M0,-1A0.8,1 0 1,1 0,1A0.8,1 0 1,1 0,-1Z","M0,-1A0.9,1 0 1,1 0,1A0.9,1 0 1,1 0,-1Z"]}},"size":{"field":"a","type":"quantitative","scale":{"type":"pow","exponent":2,"domain":[0,100],"range":[0,487204]}},"angle":{"field":"tilt","type":"quantitative","scale":null}}},
{"transform":[{"filter":"datum.k==='ln'"}],"mark":{"type":"rule","stroke":"#111111","strokeWidth":2},"encoding":{"x2":{"field":"e2"},"y2":{"field":"n2"}}},
{"transform":[{"filter":"datum.k==='head'"}],"mark":{"type":"point","shape":"triangle-up","filled":true,"fill":"#111111","size":330,"stroke":null,"opacity":1},"encoding":{"angle":{"field":"tilt","type":"quantitative","scale":null}}},
{"transform":[{"filter":"datum.k==='box'"}],"mark":{"type":"rect","fill":"white","stroke":"#222222","strokeWidth":3},"encoding":{"x2":{"field":"e2"},"y2":{"field":"n2"}}},
{"transform":[{"filter":"datum.k==='txt'"}],"mark":{"type":"text","font":"Liberation Sans","fontSize":50,"fill":"#111111"},"encoding":{"text":{"field":"t"}}}
]},
{"width":1189,"height":981,"data":{"name":"polar"},"transform":[{"filter":"datum.p==='D'||datum.p==='*'"},{"calculate":"datum.db==null?datum.e:-sin(datum.theta*PI/180)*(90-datum.db)","as":"e"},{"calculate":"datum.db==null?datum.n:cos(datum.theta*PI/180)*(90-datum.db)","as":"n"},{"calculate":"datum.db==null?datum.a:90-datum.db","as":"a"}],
"encoding":{"x":{"field":"e","type":"quantitative","axis":null,"scale":{"domain":[-167.9,196.2],"nice":false,"zero":false}},"y":{"field":"n","type":"quantitative","axis":null,"scale":{"domain":[-129.8,151.3],"nice":false,"zero":false}}},
"layer":[
{"transform":[{"filter":"datum.k==='ring'&&datum.db>-10"}],"mark":{"type":"point","shape":"M0,-1A0.936,1 0 1,1 0,1A0.936,1 0 1,1 0,-1Z","filled":false,"stroke":"#c9c9c9","strokeWidth":3,"opacity":1},"encoding":{"x":{"datum":0,"type":"quantitative"},"y":{"datum":0,"type":"quantitative"},"size":{"field":"a","type":"quantitative","scale":{"type":"pow","exponent":2,"domain":[0,100],"range":[0,487204]}}}},
{"transform":[{"filter":"datum.k==='spoke'"}],"mark":{"type":"rule","stroke":"#c9c9c9","strokeWidth":3},"encoding":{"x2":{"datum":0},"y2":{"datum":0}}},
{"transform":[{"filter":"datum.k==='ring'&&datum.db===-10"}],"mark":{"type":"point","shape":"M0,-1A0.936,1 0 1,1 0,1A0.936,1 0 1,1 0,-1Z","filled":false,"stroke":"#666666","strokeWidth":3.5,"opacity":1},"encoding":{"x":{"datum":0,"type":"quantitative"},"y":{"datum":0,"type":"quantitative"},"size":{"field":"a","type":"quantitative","scale":{"type":"pow","exponent":2,"domain":[0,100],"range":[0,487204]}}}},
{"transform":[{"filter":"datum.k==='ang'"}],"mark":{"type":"text","font":"DejaVu Sans","fontSize":25,"fill":"#555555"},"encoding":{"text":{"field":"t"}}},
{"transform":[{"filter":"datum.k==='ring'"}],"mark":{"type":"text","font":"DejaVu Sans","fontSize":25,"fill":"#555555","dx":18,"dy":-15},"encoding":{"text":{"field":"t"}}},
{"transform":[{"filter":"datum.k==='pt'"}],"mark":{"type":"point","filled":true,"fill":"#0a35e6","size":260,"stroke":null},"encoding":{"opacity":{"field":"o","type":"quantitative","scale":{"domain":[0,1],"range":[0,1]}}}},
{"transform":[{"filter":"datum.k==='ell'"}],"mark":{"type":"point","filled":false,"stroke":"#e0282a","strokeWidth":3.5,"opacity":1},"encoding":{"shape":{"field":"sh","type":"nominal","scale":{"domain":["r50","r70","r80","r90"],"range":["M0,-1A0.5,1 0 1,1 0,1A0.5,1 0 1,1 0,-1Z","M0,-1A0.7,1 0 1,1 0,1A0.7,1 0 1,1 0,-1Z","M0,-1A0.8,1 0 1,1 0,1A0.8,1 0 1,1 0,-1Z","M0,-1A0.9,1 0 1,1 0,1A0.9,1 0 1,1 0,-1Z"]}},"size":{"field":"a","type":"quantitative","scale":{"type":"pow","exponent":2,"domain":[0,100],"range":[0,487204]}},"angle":{"field":"tilt","type":"quantitative","scale":null}}},
{"transform":[{"filter":"datum.k==='ln'"}],"mark":{"type":"rule","stroke":"#111111","strokeWidth":2},"encoding":{"x2":{"field":"e2"},"y2":{"field":"n2"}}},
{"transform":[{"filter":"datum.k==='head'"}],"mark":{"type":"point","shape":"triangle-up","filled":true,"fill":"#111111","size":330,"stroke":null,"opacity":1},"encoding":{"angle":{"field":"tilt","type":"quantitative","scale":null}}},
{"transform":[{"filter":"datum.k==='box'"}],"mark":{"type":"rect","fill":"white","stroke":"#222222","strokeWidth":3},"encoding":{"x2":{"field":"e2"},"y2":{"field":"n2"}}},
{"transform":[{"filter":"datum.k==='txt'"}],"mark":{"type":"text","font":"Liberation Sans","fontSize":50,"fill":"#111111"},"encoding":{"text":{"field":"t"}}}
]},
{"width":1186,"height":198,"encoding":{"x":{"field":"t","type":"quantitative","title":"time [second]","scale":{"domain":[0,100],"nice":false},"axis":{"values":[0,20,40,60,80,100]}},"y":{"field":"f","type":"quantitative","title":"frequency [Hz]","scale":{"domain":[0,8000],"nice":false},"axis":{"values":[0,2000,4000,6000,8000],"format":"d"}},"x2":{"field":"t2"},"y2":{"field":"f2"},"color":{"field":"v","type":"quantitative","scale":{"domain":[0,0.3,0.5,0.7,1],"range":["#120a3c","#4a1fb0","#8a2a70","#c87020","#ffe040"]},"legend":null}},"layer":[{"data":{"name":"bands"},"mark":"rect"},{"data":{"name":"calls"},"transform":[{"filter":"datum.s==='C'"}],"mark":{"type":"rule","clip":true,"opacity":0.3},"encoding":{"strokeWidth":{"field":"v","type":"quantitative","scale":{"domain":[0.5,1],"range":[8,20]},"legend":null}}},{"data":{"name":"calls"},"transform":[{"filter":"datum.s==='C'"}],"mark":{"type":"rule","clip":true},"encoding":{"size":{"field":"v","type":"quantitative","scale":{"domain":[0.5,1],"range":[3,8]},"legend":null}}}]},
{"width":1189,"height":198,"encoding":{"x":{"field":"t","type":"quantitative","title":"time [second]","scale":{"domain":[0,100],"nice":false},"axis":{"values":[0,20,40,60,80,100],"titleX":606}},"y":{"field":"f","type":"quantitative","title":"frequency [Hz]","scale":{"domain":[0,8000],"nice":false},"axis":{"values":[0,2000,4000,6000,8000],"format":"d"}},"x2":{"field":"t2"},"y2":{"field":"f2"},"color":{"field":"v","type":"quantitative","scale":{"domain":[0,0.3,0.5,0.7,1],"range":["#120a3c","#4a1fb0","#8a2a70","#c87020","#ffe040"]},"legend":null}},"layer":[{"data":{"name":"bands"},"mark":"rect"},{"data":{"name":"calls"},"transform":[{"filter":"datum.s==='D'"}],"mark":{"type":"rule","clip":true,"opacity":0.3},"encoding":{"strokeWidth":{"field":"v","type":"quantitative","scale":{"domain":[0.5,1],"range":[8,20]},"legend":null}}},{"data":{"name":"calls"},"transform":[{"filter":"datum.s==='D'"}],"mark":{"type":"rule","clip":true},"encoding":{"size":{"field":"v","type":"quantitative","scale":{"domain":[0.5,1],"range":[3,8]},"legend":null}}}]},
{"width":1186,"height":952,"data":{"name":"polar"},"transform":[{"filter":"datum.p==='E'||datum.p==='*'"},{"calculate":"datum.db==null?datum.e:-sin(datum.theta*PI/180)*(90-datum.db)","as":"e"},{"calculate":"datum.db==null?datum.n:cos(datum.theta*PI/180)*(90-datum.db)","as":"n"},{"calculate":"datum.db==null?datum.a:90-datum.db","as":"a"}],
"encoding":{"x":{"field":"e","type":"quantitative","axis":null,"scale":{"domain":[-182.6,171.6],"nice":false,"zero":false}},"y":{"field":"n","type":"quantitative","axis":null,"scale":{"domain":[-130.3,141.2],"nice":false,"zero":false}}},
"layer":[
{"transform":[{"filter":"datum.k==='ring'&&datum.db>-10"}],"mark":{"type":"point","shape":"M0,-1A0.955,1 0 1,1 0,1A0.955,1 0 1,1 0,-1Z","filled":false,"stroke":"#c9c9c9","strokeWidth":3,"opacity":1},"encoding":{"x":{"datum":0,"type":"quantitative"},"y":{"datum":0,"type":"quantitative"},"size":{"field":"a","type":"quantitative","scale":{"type":"pow","exponent":2,"domain":[0,100],"range":[0,491401]}}}},
{"transform":[{"filter":"datum.k==='spoke'"}],"mark":{"type":"rule","stroke":"#c9c9c9","strokeWidth":3},"encoding":{"x2":{"datum":0},"y2":{"datum":0}}},
{"transform":[{"filter":"datum.k==='ring'&&datum.db===-10"}],"mark":{"type":"point","shape":"M0,-1A0.955,1 0 1,1 0,1A0.955,1 0 1,1 0,-1Z","filled":false,"stroke":"#666666","strokeWidth":3.5,"opacity":1},"encoding":{"x":{"datum":0,"type":"quantitative"},"y":{"datum":0,"type":"quantitative"},"size":{"field":"a","type":"quantitative","scale":{"type":"pow","exponent":2,"domain":[0,100],"range":[0,491401]}}}},
{"transform":[{"filter":"datum.k==='ang'"}],"mark":{"type":"text","font":"DejaVu Sans","fontSize":25,"fill":"#555555"},"encoding":{"text":{"field":"t"}}},
{"transform":[{"filter":"datum.k==='ring'"}],"mark":{"type":"text","font":"DejaVu Sans","fontSize":25,"fill":"#555555","dx":18,"dy":-15},"encoding":{"text":{"field":"t"}}},
{"transform":[{"filter":"datum.k==='pt'"}],"mark":{"type":"point","filled":true,"fill":"#0a35e6","size":260,"stroke":null},"encoding":{"opacity":{"field":"o","type":"quantitative","scale":{"domain":[0,1],"range":[0,1]}}}},
{"transform":[{"filter":"datum.k==='ell'"}],"mark":{"type":"point","filled":false,"stroke":"#e0282a","strokeWidth":3.5,"opacity":1},"encoding":{"shape":{"field":"sh","type":"nominal","scale":{"domain":["r50","r70","r80","r90"],"range":["M0,-1A0.5,1 0 1,1 0,1A0.5,1 0 1,1 0,-1Z","M0,-1A0.7,1 0 1,1 0,1A0.7,1 0 1,1 0,-1Z","M0,-1A0.8,1 0 1,1 0,1A0.8,1 0 1,1 0,-1Z","M0,-1A0.9,1 0 1,1 0,1A0.9,1 0 1,1 0,-1Z"]}},"size":{"field":"a","type":"quantitative","scale":{"type":"pow","exponent":2,"domain":[0,100],"range":[0,491401]}},"angle":{"field":"tilt","type":"quantitative","scale":null}}},
{"transform":[{"filter":"datum.k==='ln'"}],"mark":{"type":"rule","stroke":"#111111","strokeWidth":2},"encoding":{"x2":{"field":"e2"},"y2":{"field":"n2"}}},
{"transform":[{"filter":"datum.k==='box'"}],"mark":{"type":"rect","fill":"white","stroke":"#222222","strokeWidth":3},"encoding":{"x2":{"field":"e2"},"y2":{"field":"n2"}}},
{"transform":[{"filter":"datum.k==='txt'"}],"mark":{"type":"text","font":"Liberation Sans","fontSize":50,"fill":"#111111"},"encoding":{"text":{"field":"t"}}}
]},
{"width":1189,"height":952,"data":{"name":"key"},"mark":{"type":"text","font":"Liberation Sans","fontSize":64,"fill":"#222222","align":"left"},"encoding":{"x":{"field":"e","type":"quantitative","axis":null,"scale":{"domain":[0,100],"nice":false}},"y":{"field":"n","type":"quantitative","axis":null,"scale":{"domain":[0,100],"nice":false}},"text":{"field":"t"}}},
{"width":1186,"height":198,"encoding":{"x":{"field":"t","type":"quantitative","title":"time [second]","scale":{"domain":[0,100],"nice":false},"axis":{"values":[0,20,40,60,80,100]}},"y":{"field":"f","type":"quantitative","title":"frequency [Hz]","scale":{"domain":[0,8000],"nice":false},"axis":{"values":[0,2000,4000,6000,8000],"format":"d"}},"x2":{"field":"t2"},"y2":{"field":"f2"},"color":{"field":"v","type":"quantitative","scale":{"domain":[0,0.3,0.5,0.7,1],"range":["#120a3c","#4a1fb0","#8a2a70","#c87020","#ffe040"]},"legend":null}},"layer":[{"data":{"name":"bands"},"mark":"rect"},{"data":{"name":"calls"},"transform":[{"filter":"datum.s==='E'"}],"mark":{"type":"rule","clip":true,"opacity":0.3},"encoding":{"strokeWidth":{"field":"v","type":"quantitative","scale":{"domain":[0.5,1],"range":[8,20]},"legend":null}}},{"data":{"name":"calls"},"transform":[{"filter":"datum.s==='E'"}],"mark":{"type":"rule","clip":true},"encoding":{"size":{"field":"v","type":"quantitative","scale":{"domain":[0.5,1],"range":[3,8]},"legend":null}}}]}
]}
